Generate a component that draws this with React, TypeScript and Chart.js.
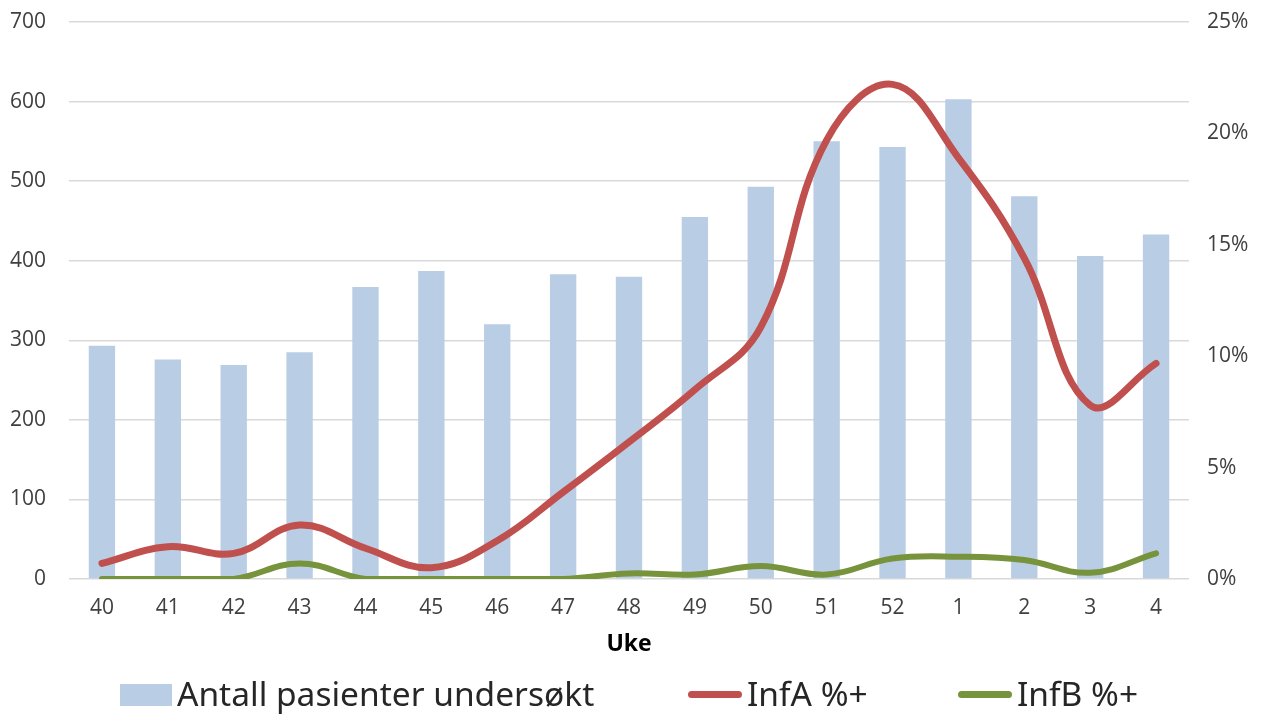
import React, { useEffect, useRef } from "react";
import { Chart, registerables } from "chart.js";

Chart.register(...registerables);

const weeks = ["40", "41", "42", "43", "44", "45", "46", "47", "48", "49", "50", "51", "52", "1", "2", "3", "4"];
const patients = [293, 276, 269, 285, 367, 387, 320, 383, 380, 455, 493, 550, 543, 603, 481, 406, 433];
const infA = [0.7, 1.45, 1.15, 2.42, 1.38, 0.51, 1.72, 3.9, 6.15, 8.5, 11.3, 19.7, 22.2, 18.9, 14.4, 7.8, 9.68];
const infB = [0, 0, 0, 0.7, 0, 0, 0, 0, 0.25, 0.2, 0.58, 0.2, 0.92, 1.0, 0.85, 0.28, 1.15];
const leftTicks = { min: 0, max: 700, step: 100 };
const rightTicks = { min: 0, max: 25, step: 5 };

const BLUE = "#B9CDE5";
const RED = "#C0504D";
const GREEN = "#77933C";
const TICK = "#404040";
const FONT = "'Open Sans', 'Noto Sans', sans-serif";
const LEGEND_FONT = "'Noto Sans', sans-serif";

const legendItems = [
  { label: "Antall pasienter undersøkt", color: BLUE, kind: "box", x: 120, tx: 177 },
  { label: "InfA %+", color: RED, kind: "line", x: 688, tx: 747 },
  { label: "InfB %+", color: GREEN, kind: "line", x: 958, tx: 1017 },
];

export default function App() {
  const ref = useRef<HTMLCanvasElement>(null);

  useEffect(() => {
    const chart = new Chart(ref.current as HTMLCanvasElement, {
      type: "bar",
      data: {
        labels: weeks,
        datasets: [
          {
            type: "bar",
            label: legendItems[0].label,
            data: patients,
            yAxisID: "y",
            backgroundColor: BLUE,
            barPercentage: 0.4,
            categoryPercentage: 1,
            order: 3,
          } as any,
          {
            type: "line",
            label: legendItems[1].label,
            data: infA,
            yAxisID: "y1",
            borderColor: RED,
            backgroundColor: RED,
            borderWidth: 7,
            tension: 0.4,
            pointRadius: 0,
            borderCapStyle: "round",
            borderJoinStyle: "round",
            order: 1,
          } as any,
          {
            type: "line",
            label: legendItems[2].label,
            data: infB,
            yAxisID: "y1",
            borderColor: GREEN,
            backgroundColor: GREEN,
            borderWidth: 6,
            tension: 0.4,
            pointRadius: 0,
            borderCapStyle: "round",
            borderJoinStyle: "round",
            order: 2,
          } as any,
        ],
      },
      options: {
        responsive: true,
        maintainAspectRatio: false,
        animation: false,
        layout: { padding: { top: 22, left: 0, right: 0, bottom: 0 } },
        plugins: { legend: { display: false }, tooltip: { enabled: false } },
        scales: {
          x: {
            grid: { display: false, drawTicks: false },
            border: { display: false },
            ticks: { color: TICK, font: { family: FONT, size: 21 }, padding: 16, maxRotation: 0 },
            title: {
              display: true,
              text: "Uke",
              color: "#000",
              font: { family: FONT, size: 23, weight: "bold" },
              padding: { top: 0, bottom: 56 },
            },
            afterFit: (s: any) => {
              s.height = 135;
            },
          },
          y: {
            position: "left",
            min: leftTicks.min,
            max: leftTicks.max,
            ticks: { stepSize: leftTicks.step, color: TICK, font: { family: FONT, size: 21 }, padding: 23 },
            grid: { color: "#D9D9D9", lineWidth: 1.5, drawTicks: false },
            border: { display: false },
            afterFit: (s: any) => {
              s.width = 69;
              s.paddingTop = 0;
              s.paddingBottom = 0;
            },
          },
          y1: {
            position: "right",
            min: rightTicks.min,
            max: rightTicks.max,
            ticks: {
              stepSize: rightTicks.step,
              color: TICK,
              font: { family: FONT, size: 21 },
              padding: 18,
              callback: (v: any) => v + "%",
            },
            grid: { display: false, drawTicks: false },
            border: { display: false },
            afterFit: (s: any) => {
              s.width = 74;
              s.paddingTop = 0;
              s.paddingBottom = 0;
            },
          },
        },
      } as any,
    });
    return () => chart.destroy();
  }, []);

  return (
    <div style={{ position: "fixed", left: 0, top: 0, width: 1263, height: 714, background: "#fff" }}>
      <canvas ref={ref} style={{ width: "100%", height: "100%" }} />
      {legendItems.map((it) => (
        <React.Fragment key={it.label}>
          {it.kind === "box" ? (
            <div style={{ position: "absolute", left: it.x, top: 684, width: 52, height: 22, background: it.color }} />
          ) : (
            <div
              style={{ position: "absolute", left: it.x, top: 691, width: 54, height: 7, borderRadius: 3.5, background: it.color }}
            />
          )}
          <div
            style={{
              position: "absolute",
              left: it.tx,
              top: 677,
              height: 33,
              lineHeight: "33px",
              fontFamily: LEGEND_FONT,
              fontSize: 33.5,
              color: "#262626",
              whiteSpace: "nowrap",
            }}
          >
            {it.label}
          </div>
        </React.Fragment>
      ))}
    </div>
  );
}
